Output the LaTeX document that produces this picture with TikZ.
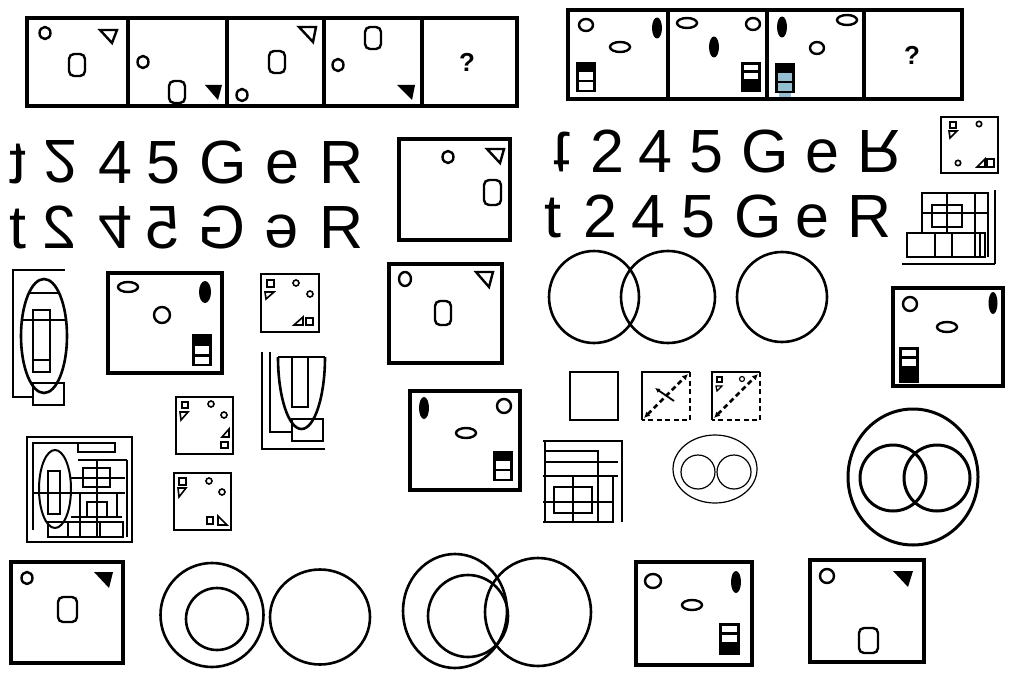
\documentclass[tikz,border=0pt]{standalone}
\usepackage{fontspec}
\setmainfont{Liberation Sans}
\usetikzlibrary{arrows.meta}
\newcommand{\HF}[1]{\reflectbox{#1}}
\newcommand{\VF}[1]{\raisebox{\depth}{\scalebox{1}[-1]{#1}}}
\newcommand{\RF}[1]{\raisebox{\depth}{\scalebox{-1}[-1]{#1}}}
\newcommand{\BoxTop}[2]{\begin{scope}[shift={(#1,#2)}]
 \fill[black] (-10,-15) rectangle (10,15);
 \fill[white] (-7,-5) rectangle (7,2.5);
 \fill[white] (-7,5) rectangle (7,12.5);
\end{scope}}
\newcommand{\BoxBot}[2]{\begin{scope}[shift={(#1,#2)}]
 \fill[black] (-10,-15) rectangle (10,15);
 \fill[white] (-7,-12.5) rectangle (7,-7);
 \fill[white] (-7,-4.5) rectangle (7,1.5);
\end{scope}}
\tikzset{
 frame/.style={line width=4.5pt},
 shp/.style={line width=2.4pt},
 med/.style={line width=2.6pt},
 thin/.style={line width=1.6pt},
 glyph/.style={inner sep=0pt, anchor=base, font=\fontsize{61}{61}\selectfont},
 qm/.style={inner sep=0pt, font=\fontsize{26}{26}\selectfont\bfseries},
 ovalo/.pic={\draw[shp, rounded corners=5pt] (-8,-11) rectangle (8,11);},
 circ/.pic={\draw[shp] (0,0) ellipse (5.5 and 6);},
 hell/.pic={\draw[shp] (0,0) ellipse (10 and 5);},
 fell/.pic={\fill[black] (0,0) ellipse (5 and 10.5);},
 cir7/.pic={\draw[shp] (0,0) ellipse (7 and 7);},
}
\begin{document}
\begin{tikzpicture}[x=1pt,y=-1pt,line join=miter]
\useasboundingbox (0,0) rectangle (1022,682);
\fill[white] (0,0) rectangle (1022,682);

% ---------- top-left puzzle strip ----------
\draw[frame] (27,18) rectangle (517,106);
\foreach \x in {128,227,324,422} \draw[frame] (\x,18) -- (\x,106);
\pic at (45,33) {circ};
\draw[shp] (100,30) -- (117,30) -- (112,43) -- cycle;
\pic at (77,65) {ovalo};
\pic at (143,62) {circ};
\pic at (177,92) {ovalo};
\fill (205,85) -- (222,85) -- (218,100) -- cycle;
\pic at (242,95) {circ};
\draw[shp] (299,27) -- (316,27) -- (313,42) -- cycle;
\pic at (277,62) {ovalo};
\pic at (373,38) {ovalo};
\pic at (338,65) {circ};
\fill (397,85) -- (415,85) -- (412,100) -- cycle;
\node[qm] (q1) at (467,62) {?};

% ---------- top-right puzzle strip ----------
\draw[frame] (568,10) rectangle (962,99);
\foreach \x in {668,767,864} \draw[frame] (\x,10) -- (\x,99);
\draw[shp] (586,25) ellipse (7 and 6);
\pic at (657,28) {fell};
\pic at (620,47) {hell};
\BoxTop{585.5}{77.5}
\pic at (687,23) {hell};
\draw[shp] (753,24) ellipse (7 and 6);
\pic at (714,47) {fell};
\BoxBot{751}{77.5}
\pic at (782,27) {fell};
\pic at (847,20) {hell};
\draw[shp] (817,48) ellipse (7 and 6);
\begin{scope}[shift={(785,78.5)}]
 \fill[blue!30!cyan!40!gray!60] (-6,10) rectangle (6,19);
 \fill[black] (-10,-15) rectangle (10,15);
 \fill[blue!30!cyan!40!gray!60] (-7,-5) rectangle (7,2.5);
 \fill[blue!30!cyan!40!gray!60] (-7,5) rectangle (7,12.5);
\end{scope}
\node[qm] (q2) at (912,55) {?};

% ---------- mirrored letters, left ----------
\node[glyph] (a1) at (18,183) {\HF{t}};
\node[glyph] (a2) at (60,183) {\VF{2}};
\node[glyph] (a3) at (115,183) {4};
\node[glyph] (a4) at (163,183) {5};
\node[glyph] (a5) at (223,183) {G};
\node[glyph] (a6) at (282,183) {e};
\node[glyph] (a7) at (342,183) {R};
\node[glyph] (b1) at (18,248) {t};
\node[glyph] (b2) at (60,248) {\HF{2}};
\node[glyph] (b3) at (115,248) {\VF{4}};
\node[glyph] (b4) at (163,248) {\HF{5}};
\node[glyph] (b5) at (222,248) {\HF{G}};
\node[glyph] (b6) at (282,248) {\RF{e}};
\node[glyph] (b7) at (342,248) {R};
% ---------- letters, right ----------
\node[glyph] (c1) at (562,172) {\VF{t}};
\node[glyph] (c2) at (607,172) {2};
\node[glyph] (c3) at (655,172) {4};
\node[glyph] (c4) at (706,172) {5};
\node[glyph] (c5) at (765,172) {G};
\node[glyph] (c6) at (822,172) {e};
\node[glyph] (c7) at (880,172) {\VF{R}};
\node[glyph] (d1) at (553,237) {t};
\node[glyph] (d2) at (600,237) {2};
\node[glyph] (d3) at (648,237) {4};
\node[glyph] (d4) at (698,237) {5};
\node[glyph] (d5) at (758,237) {G};
\node[glyph] (d6) at (812,237) {e};
\node[glyph] (d7) at (870,237) {R};

% ---------- big square (upper middle) ----------
\draw[frame] (399,139) rectangle (510,240);
\pic at (448,157) {circ};
\draw[shp] (487,149) -- (504,149) -- (500,163) -- cycle;
\draw[shp, rounded corners=5pt] (484,180) rectangle (501,205);

% ---------- small square top right ----------
\draw[med] (941,117) rectangle (998,173);
\draw[thin] (950,122) rectangle (956,128);
\draw[thin] (949,131) -- (957,131) -- (950,138) -- cycle;
\draw[thin] (979,124) circle (2.7);
\draw[thin] (958,163) circle (2.7);
\draw[thin] (977,167) -- (985,167) -- (985,159) -- cycle;
\draw[thin] (987,159) rectangle (994,167);

% ---------- grid top right ----------
\begin{scope}[line width=2.8pt]
\draw (922,233) -- (922,193) -- (987,193);
\draw (947,193) -- (947,233);
\draw (975,193) -- (975,257);
\draw (922,213) -- (988,213);
\draw (932,205) rectangle (962,227);
\draw (907,233) rectangle (985,257);
\draw (935,233) -- (935,257);
\draw (952,233) -- (952,257);
\draw (980,233) -- (980,257);
\draw (988,192) -- (988,257);
\draw (995,190) -- (995,264);
\draw (902,264) -- (995,264);
\end{scope}

% ---------- circles middle ----------
\draw[med] (594,297) ellipse (45 and 46);
\draw[med] (668,297) ellipse (47 and 46);
\draw[med] (782,297) ellipse (45 and 45);

% ---------- left ellipse figure ----------
\begin{scope}[line width=2.6pt]
\draw (65,270) -- (13,270) -- (13,397) -- (33,397);
\draw (44,336) ellipse (23 and 57);
\draw (28,293) -- (60,293);
\draw (21,320) -- (67,320);
\draw (33,310) rectangle (50,372);
\draw (33,360) -- (50,360);
\draw (33,383) rectangle (64,405);
\end{scope}

% ---------- square with ellipses (left) ----------
\draw[frame] (108,273) rectangle (222,373);
\pic at (128,287) {hell};
\fill (205,292) ellipse (6 and 11);
\draw[shp] (162,315) ellipse (8 and 8);
\begin{scope}[shift={(202,350)}]
 \fill[black] (-10,-16) rectangle (10,16);
 \fill[white] (-7,-4) rectangle (7,3.5);
 \fill[white] (-7,6.5) rectangle (7,13.5);
\end{scope}

% ---------- small square items ----------
\draw[med] (261,274) rectangle (319,332);
\draw[thin] (267,280) rectangle (274,287);
\draw[thin] (265,292) -- (274,292) -- (266,299) -- cycle;
\draw[thin] (296,283) circle (3);
\draw[thin] (310,294) circle (3);
\draw[thin] (294,325) -- (303,325) -- (303,317) -- cycle;
\draw[thin] (306,318) rectangle (313,325);

\draw[med] (176,397) rectangle (233,454);
\draw[thin] (182,402) rectangle (188,408);
\draw[thin] (180,412) -- (188,412) -- (181,420) -- cycle;
\draw[thin] (211,404) circle (3);
\draw[thin] (224,415) circle (3);
\draw[thin] (222,437) -- (229,437) -- (229,429) -- cycle;
\draw[thin] (221,442) rectangle (228,448);

\draw[med] (174,473) rectangle (231,530);
\draw[thin] (179,478) rectangle (186,485);
\draw[thin] (178,488) -- (186,488) -- (179,497) -- cycle;
\draw[thin] (209,481) circle (3);
\draw[thin] (222,492) circle (3);
\draw[thin] (207,517) rectangle (213,524);
\draw[thin] (218,516) -- (218,525) -- (227,525) -- cycle;

% ---------- U figure ----------
\begin{scope}[line width=2.6pt]
\draw (262,352) -- (262,449) -- (325,449);
\draw (270,352) -- (270,432) -- (292,432);
\draw (278,357) -- (325,357);
\draw (278,357) arc[start angle=180, end angle=0, x radius=23.5, y radius=72];
\draw (292,357) -- (292,407) -- (308,407) -- (308,357);
\draw (292,419) rectangle (323,441);
\end{scope}

% ---------- grid with ellipse ----------
\draw[line width=1.5pt] (27,437) rectangle (132,542);
\begin{scope}[line width=2pt]
\draw (33,530) -- (33,443) -- (115,443);
\draw (78,443) rectangle (115,452);
\draw (78,460) -- (127,460);
\draw (127,460) -- (127,537);
\draw (55,489) ellipse (16 and 39);
\draw (48,471) rectangle (60,514);
\draw (71,478) -- (125,478);
\draw (33,493) -- (125,493);
\draw (97,460) -- (97,537);
\draw (80,493) -- (80,537);
\draw (117,493) -- (117,517);
\draw (83,468) rectangle (110,487);
\draw (87,502) rectangle (107,517);
\draw (71,517) -- (122,517);
\draw (48,522) rectangle (123,537);
\draw (68,522) -- (68,537);
\draw (100,522) -- (100,537);
\end{scope}

% ---------- square middle ----------
\draw[frame] (389,264) rectangle (502,363);
\draw[shp] (405,279) ellipse (6 and 7);
\draw[shp] (476,272) -- (493,272) -- (489,287) -- cycle;
\draw[shp, rounded corners=5pt] (435,301) rectangle (451,325);

% ---------- square with ellipses (middle) ----------
\draw[frame] (410,391) rectangle (520,490);
\fill (424,408) ellipse (5 and 11);
\pic at (504,406) {cir7};
\pic at (466,433) {hell};
\BoxTop{502.5}{466}

% ---------- dashed squares ----------
\draw[med] (570,372) rectangle (618,420);
\draw[med] (642,420) -- (642,372) -- (690,372);
\draw[med, dash pattern=on 5pt off 3.5pt] (690,372) -- (690,420) -- (642,420);
\draw[med, dash pattern=on 5pt off 3.5pt, {Latex[length=6pt,width=6pt]}-{Latex[length=6pt,width=6pt]}] (644,418) -- (688,374);
\draw[line width=1.8pt, -{Latex[length=5pt,width=5pt]}] (674,401) -- (655,388);
\draw[med] (712,420) -- (712,372) -- (760,372);
\draw[med, dash pattern=on 5pt off 3.5pt] (760,372) -- (760,420) -- (712,420);
\draw[med, dash pattern=on 5pt off 3.5pt, {Latex[length=6pt,width=6pt]}-{Latex[length=6pt,width=6pt]}] (714,418) -- (758,374);
\draw[line width=1.2pt] (717,377) rectangle (722,382);
\draw[line width=1.2pt] (716,386) -- (722,386) -- (717,391) -- cycle;
\draw[line width=1.2pt] (742,379) circle (2.5);

% ---------- grid middle ----------
\begin{scope}[line width=2.8pt]
\draw (543,441) -- (623,441);
\draw (622,441) -- (622,522);
\draw (545,441) -- (545,522);
\draw (545,451) -- (598,451) -- (598,522);
\draw (545,462) -- (618,462);
\draw (543,476) -- (618,476);
\draw (613,476) -- (613,522);
\draw (573,475) -- (573,522);
\draw (554,487) rectangle (592,513);
\draw (543,502) -- (614,502);
\draw (543,522) -- (614,522);
\end{scope}

% ---------- ellipse with two circles ----------
\draw[line width=1.2pt] (715,469) ellipse (42 and 34);
\draw[line width=1.2pt] (698,472) ellipse (17 and 17);
\draw[line width=1.2pt] (734,472) ellipse (17 and 17);

% ---------- big circle with two ----------
\draw[line width=3pt] (913,477) ellipse (65 and 68);
\draw[line width=3pt] (893,478) ellipse (33 and 33);
\draw[line width=3pt] (937,478) ellipse (33 and 33);

% ---------- right square ----------
\draw[frame] (893,288) rectangle (1003,386);
\pic at (910,304) {cir7};
\fill (993,303) ellipse (4.5 and 11);
\pic at (947,327) {hell};
\begin{scope}[shift={(909,365)}]
 \fill[black] (-10,-18) rectangle (10,18);
 \fill[white] (-7,-15) rectangle (7,-9);
 \fill[white] (-7,-6) rectangle (7,1);
\end{scope}

% ---------- bottom row ----------
\draw[frame] (11,562) rectangle (123,663);
\pic at (27,578) {circ};
\fill (94,572) -- (113,572) -- (109,588) -- cycle;
\draw[shp, rounded corners=5pt] (58,597) rectangle (77,622);

\draw[med] (212,615) ellipse (51.5 and 52);
\draw[med] (217,619) ellipse (31 and 31);
\draw[med] (320,617) ellipse (50 and 47.5);

\draw[med] (455,611) ellipse (52 and 57);
\draw[med] (468,616) ellipse (40 and 41);
\draw[med] (538,612) ellipse (53 and 54);

\draw[frame] (636,562) rectangle (752,665);
\draw[shp] (653,581) ellipse (8 and 7);
\fill (736,582) ellipse (5 and 11);
\pic at (692,605) {hell};
\begin{scope}[shift={(729.5,639)}]
 \fill[black] (-10.5,-16) rectangle (10.5,16);
 \fill[white] (-7.5,-13) rectangle (7.5,-7);
 \fill[white] (-7.5,-4) rectangle (7.5,3);
\end{scope}

\draw[frame] (810,560) rectangle (924,662);
\draw[shp] (827,576) ellipse (7 and 7);
\fill (893,571) -- (913,571) -- (908,587) -- cycle;
\draw[shp, rounded corners=5pt] (859,628) rectangle (878,653);
\end{tikzpicture}
\end{document}
